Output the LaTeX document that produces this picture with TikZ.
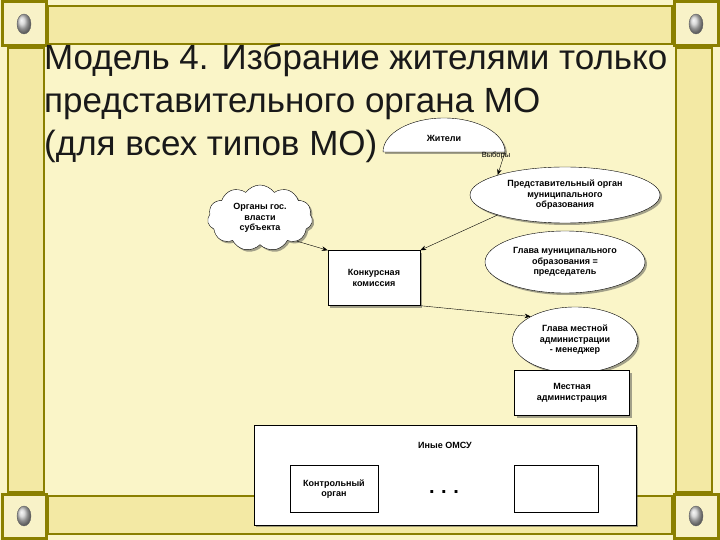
\documentclass[tikz,border=0pt]{standalone}
\usepackage{fontspec}
\setmainfont{Liberation Sans}
\usetikzlibrary{shapes.geometric,shapes.symbols,shadows,arrows.meta}
\definecolor{bg}{HTML}{FAF5C8}
\definecolor{band}{HTML}{F3E9A4}
\definecolor{olive}{HTML}{8A7F00}
\tikzset{
 lbl/.style={font=\fontsize{9}{10.5}\selectfont\bfseries,align=center},
 ell/.style={ellipse,draw,fill=white,lbl,drop shadow={shadow xshift=2pt,shadow yshift=-2pt,fill=black!70}},
 box/.style={rectangle,draw,fill=white,lbl,drop shadow={shadow xshift=2pt,shadow yshift=-2pt,fill=black!70}},
 arr/.style={-{Stealth[length=6pt]},thin},
 corner/.style={draw=olive,line width=3pt,fill=band!60},
 bandst/.style={draw=olive,line width=2pt,fill=band},
}
\begin{document}
\begin{tikzpicture}[x=1pt,y=-1pt]
\useasboundingbox (0,0) rectangle (720,540);
\fill[bg] (0,0) rectangle (720,540);
% bands
\draw[bandst] (48,6) rectangle (672,44);
\draw[bandst] (48,496) rectangle (672,534);
\draw[bandst] (8,48) rectangle (44,492);
\draw[bandst] (676,48) rectangle (712,492);
% corners
\foreach \cx/\cy [count=\i] in {24/24,696/24,24/516,696/516}{
 \draw[corner] (\cx-22,\cy-22) rectangle (\cx+22,\cy+22);
 \shade[ball color=gray!40,draw=black!60] (\cx,\cy) ellipse (7 and 10);
}
% title
\node[anchor=north west,align=left,font=\fontsize{35}{43}\selectfont,text=black!90,inner sep=0] (title) at (44,44)
 {Модель 4. Избрание жителями только\\представительного органа МО\\(для всех типов МО)};
% nodes
\draw[fill=white,drop shadow={shadow xshift=2pt,shadow yshift=-2pt,fill=black!70}] (383,152) arc (180:360:61 and 34) -- cycle;
\node[lbl] (zh) at (444,138) {Жители};
\coordinate (zhb) at (505,152);
\node[font=\fontsize{7.5}{9}\selectfont] (vyb) at (496,156) {Выборы};
\node[ell,minimum width=190,minimum height=56,inner sep=1pt] (pred) at (565,195) {Представительный орган\\муниципального\\образования};
\node[cloud,cloud puffs=11,cloud puff arc=110,aspect=1.5,draw,fill=white,lbl,minimum width=105,minimum height=66,inner sep=0pt,drop shadow={shadow xshift=2pt,shadow yshift=-2pt,fill=black!70}] (org) at (260,218) {Органы гос.\\власти\\субъекта};
\node[box,minimum width=92,minimum height=55] (kk) at (374,278) {Конкурсная\\комиссия};
\node[ell,minimum width=160,minimum height=62,inner sep=1pt] (glmo) at (565,262) {Глава муниципального\\образования =\\председатель};
\node[ell,minimum width=125,minimum height=66,inner sep=0pt] (glma) at (575,340) {Глава местной\\администрации\\- менеджер};
\node[box,minimum width=115,minimum height=45] (ma) at (572,393) {Местная\\администрация};
\node[box,minimum width=382,minimum height=100] (omsu) at (445,475) {};
\node[lbl] (omsut) at (445,445) {Иные ОМСУ};
\node[draw,fill=white,lbl,minimum width=88,minimum height=47] (ko) at (334,489) {Контрольный\\орган};
\node[draw,fill=white,minimum width=84,minimum height=47] (emp) at (556,489) {};
\node[font=\fontsize{20}{20}\selectfont\bfseries] (dots) at (444,492) {.\,\,.\,\,.};
% arrows
\draw[arr] (zhb) -- (pred.north west);
\draw[arr] (org.south east) -- (kk.north west);
\draw[arr] (pred.south west) -- (kk.north east);
\draw[arr] (kk.south east) -- (glma.north west);
\end{tikzpicture}
\end{document}
